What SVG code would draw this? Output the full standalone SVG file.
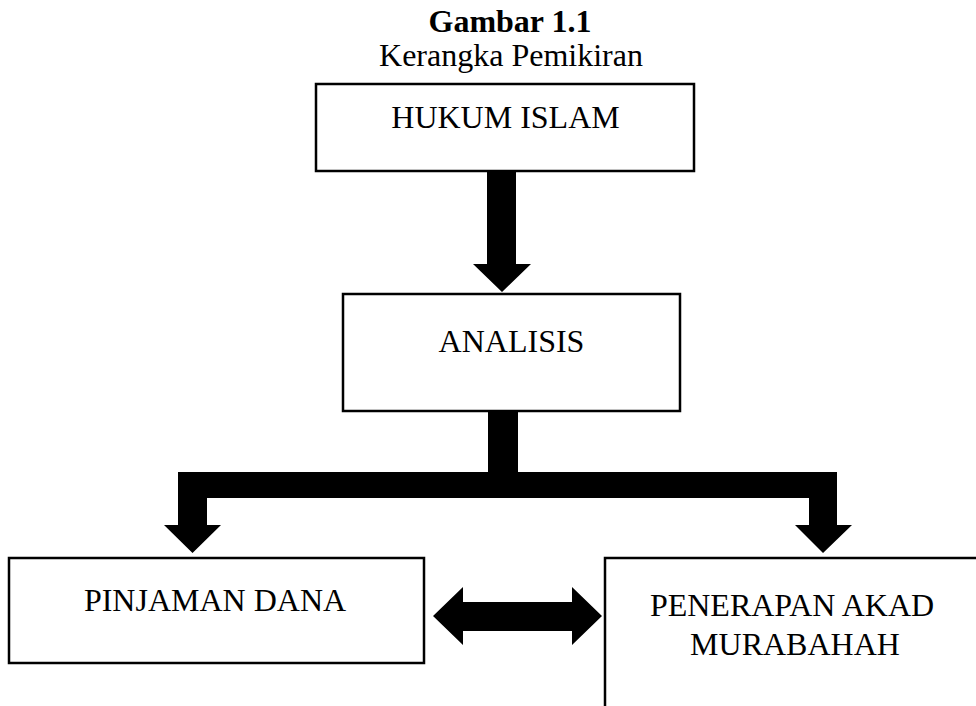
<svg xmlns="http://www.w3.org/2000/svg" width="976" height="706" viewBox="0 0 976 706">
<style>
text{font-family:"Liberation Serif","Times New Roman",serif;font-size:32px;fill:#000;text-anchor:middle}
.title{font-weight:bold}
.box{fill:#fff;stroke:#000;stroke-width:2.5}
.conn{fill:#000;stroke:none}
</style>
<rect width="976" height="706" fill="#fff"/>
<text class="title" x="510" y="32">Gambar 1.1</text>
<text x="511" y="66">Kerangka Pemikiran</text>
<g id="hukum-islam">
<rect class="box" x="316" y="84" width="378" height="87"/>
<text x="505.5" y="128">HUKUM ISLAM</text>
</g>
<g id="analisis">
<rect class="box" x="343" y="294" width="337" height="117"/>
<text x="511.5" y="352">ANALISIS</text>
</g>
<g id="pinjaman-dana">
<rect class="box" x="9" y="558" width="415" height="105"/>
<text x="215" y="611">PINJAMAN DANA</text>
</g>
<g id="penerapan-akad">
<rect class="box" x="605" y="558" width="420" height="200"/>
<text x="792" y="616">PENERAPAN AKAD</text>
<text x="795" y="655">MURABAHAH</text>
</g>
<g id="connectors">
<polygon class="conn" points="487,172 516,172 516,264 531,264 502,292 473,264 487,264"/>
<polygon class="conn" points="488,411 518,411 518,472 837,472 837,525 852,525 823,553 795,525 809,525 809,498 207,498 207,525 221,525 192.5,553 164,525 178,525 178,472 488,472"/>
<polygon class="conn" points="433,616 463,587 463,602 572,602 572,587 602,616 572,645 572,631 463,631 463,645"/>
</g>
</svg>
